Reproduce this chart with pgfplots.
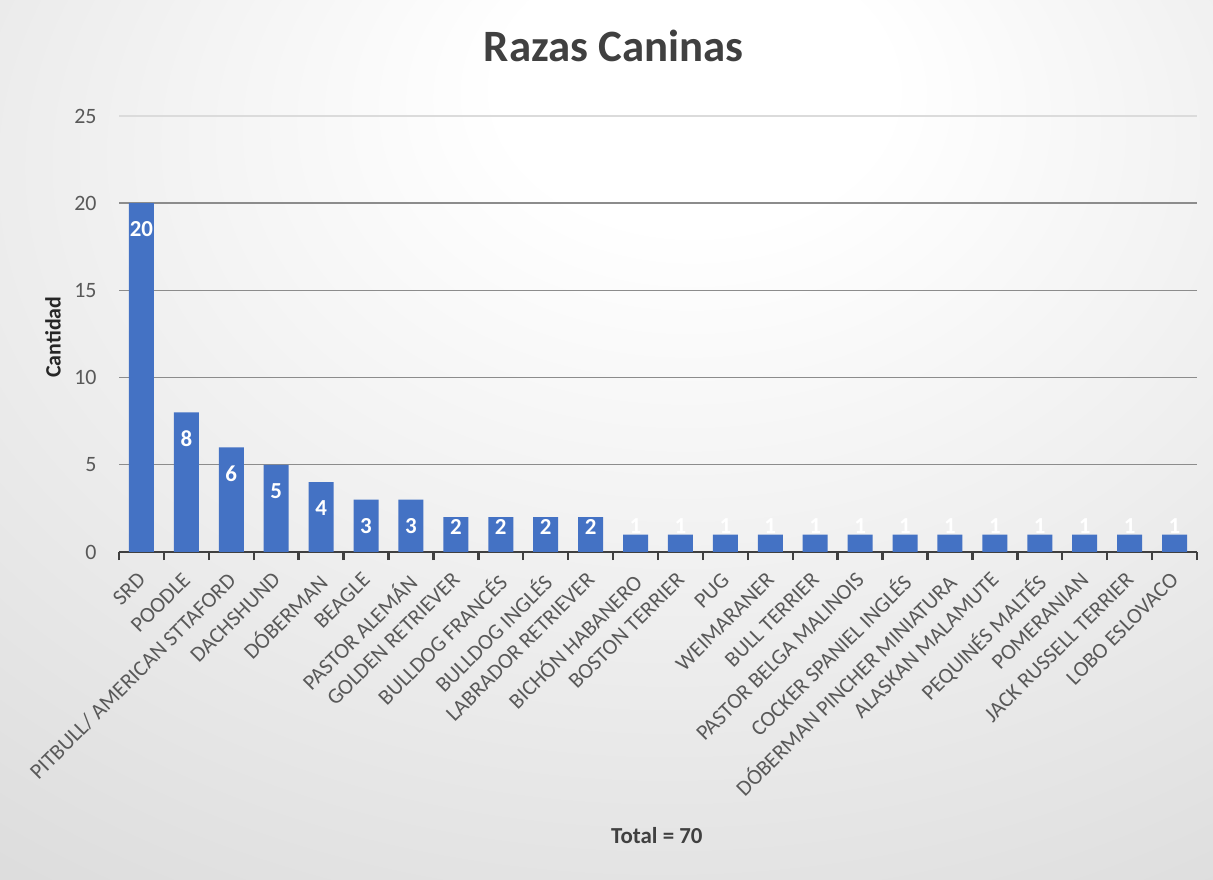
\documentclass[border=0pt]{standalone}
\usepackage{fontspec}
\setmainfont{Carlito}
\usepackage{pgfplots}
\usepackage{pgfplotstable}
\pgfplotsset{compat=1.18}
\definecolor{barblue}{HTML}{4472C4}
\definecolor{txtgray}{HTML}{595959}
\definecolor{titlegray}{HTML}{404040}
\pgfdeclareradialshading{bgshade}{\pgfpoint{4bp}{22bp}}{color(0bp)=(white); color(8bp)=(white); color(60bp)=(black!19); color(90bp)=(black!24)}

\pgfplotstableread{
x v
0 20
1 8
2 6
3 5
4 4
5 3
6 3
7 2
8 2
9 2
10 2
11 1
12 1
13 1
14 1
15 1
16 1
17 1
18 1
19 1
20 1
21 1
22 1
23 1
}\datatable

\begin{document}
\begin{tikzpicture}
\shade[shading=bgshade] (0,0) rectangle (606.5bp,440bp);
\useasboundingbox (0,0) rectangle (606.5bp,440bp);
\begin{axis}[
  at={(59.5bp,164bp)}, anchor=south west,
  scale only axis, width=539bp, height=218bp,
  xmin=-0.5, xmax=23.5, ymin=0, ymax=25,
  ytick={0,5,10,15,20},
  extra y ticks={25},
  extra y tick style={grid style={color=black!14, line width=0.7bp}},
  ymajorgrids,
  grid style={color=black!45, line width=0.7bp},
  xtick={0,...,23},
  xticklabels={SRD,POODLE,PITBULL/ AMERICAN STTAFORD,DACHSHUND,DÓBERMAN,BEAGLE,PASTOR ALEMÁN,GOLDEN RETRIEVER,BULLDOG FRANCÉS,BULLDOG INGLÉS,LABRADOR RETRIEVER,BICHÓN HABANERO,BOSTON TERRIER,PUG,WEIMARANER,BULL TERRIER,PASTOR BELGA MALINOIS,COCKER SPANIEL INGLÉS,DÓBERMAN PINCHER MINIATURA,ALASKAN MALAMUTE,PEQUINÉS MALTÉS,POMERANIAN,JACK RUSSELL TERRIER,LOBO ESLOVACO},
  minor xtick={-0.5,0.5,...,23.5},
  axis x line*=bottom, axis y line*=left,
  y axis line style={draw=none},
  x axis line style={draw=titlegray, line width=1.2bp, -},
  ytick style={draw=none},
  major x tick style={draw=none},
  minor x tick style={draw=titlegray, line width=1.2bp},
  major tick length=0pt,
  minor tick length=4bp,
  tick align=outside,
  /pgf/number format/assume math mode=true,
  yticklabel style={anchor=east, inner sep=0pt, xshift=-11bp, font=\fontsize{11}{13}\selectfont, color=txtgray},
  xticklabel style={anchor=north east, rotate=45, inner sep=1bp, xshift=-7.4bp, yshift=-3.9bp, font=\fontsize{11}{13}\selectfont, color=txtgray},
  title={Razas Caninas},
  title style={at={(0.459,1.133)}, anchor=center, yshift=0pt, font=\bfseries\fontsize{22.5}{26}\selectfont, color=titlegray},
  ylabel={Cantidad},
  ylabel style={at={(-0.0612,0.493)}, anchor=center, font=\bfseries\fontsize{11}{13}\selectfont, color=black!85},
  xlabel={Total = 70},
  xlabel style={at={(0.499,-0.651)}, anchor=center, font=\bfseries\fontsize{11.5}{13}\selectfont, color=titlegray},
]
\addplot[ybar, bar width=12.5bp, fill=barblue, draw=none] table[x=x, y=v] {\datatable};
\addplot[draw=none, nodes near coords, point meta=explicit,
  nodes near coords style={anchor=center, text=white, font=\bfseries\fontsize{11.5}{13}\selectfont}]
  table[x=x, y expr={max(\thisrow{v}-1.5,1.46)}, meta=v] {\datatable};
\end{axis}
\end{tikzpicture}
\end{document}
